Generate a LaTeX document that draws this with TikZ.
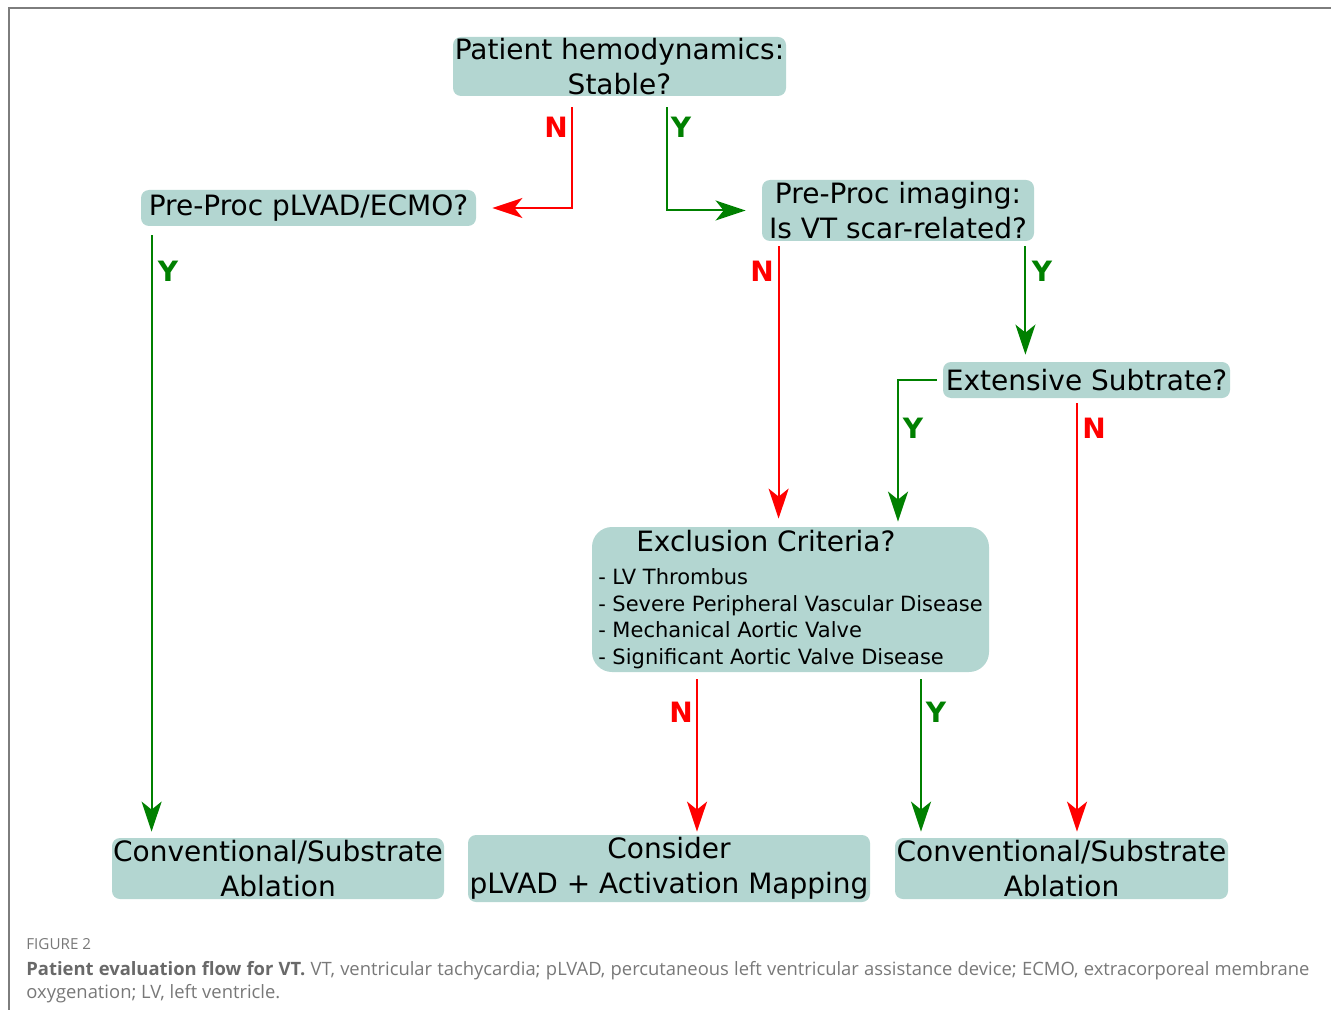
\documentclass[tikz,border=0pt]{standalone}
\usepackage{fontspec}
\setmainfont{DejaVu Sans}
\newfontfamily\capfont{Open Sans}
\usetikzlibrary{arrows.meta,calc}

\definecolor{boxfill}{RGB}{179,214,209}
\definecolor{nored}{RGB}{255,0,0}
\definecolor{yesgreen}{RGB}{0,128,0}
\definecolor{framegray}{RGB}{125,125,125}
\definecolor{capgray}{RGB}{120,120,120}
\definecolor{capdark}{RGB}{105,105,105}

\tikzset{
  box/.style={fill=boxfill, rounded corners=4pt, inner sep=0pt, align=center,
    font=\fontsize{14}{17.5}\selectfont},
  arr/.style={line width=1pt, -{Stealth[length=15pt,width=10pt,inset=4pt]}},
  no/.style={arr, draw=nored},
  yes/.style={arr, draw=yesgreen},
  nlab/.style={text=nored, font=\bfseries\fontsize{14}{14}\selectfont},
  ylab/.style={text=yesgreen, font=\bfseries\fontsize{14}{14}\selectfont},
}

\begin{document}
\begin{tikzpicture}[x=0.5pt,y=-0.5pt]
  \useasboundingbox (0,0) rectangle (1331,1010);
  \draw[framegray,line width=0.75pt] (9,1010) -- (9,8) -- (1331,8);

  % decision boxes
  \node[box,minimum width=166.5pt,minimum height=29.5pt] (hemo) at (619.5,66.5)
    {Patient hemodynamics:\\Stable?};
  \node[box,minimum width=167.5pt,minimum height=18pt] (lvad) at (308.5,208)
    {Pre-Proc pLVAD/ECMO?};
  \node[box,minimum width=136pt,minimum height=30.5pt] (img) at (898,210.5)
    {Pre-Proc imaging:\\Is VT scar-related?};
  \node[box,minimum width=143.5pt,minimum height=18pt] (ext) at (1086.5,380)
    {Extensive Subtrate?};
  \node[box,rounded corners=10pt,minimum width=198.5pt,minimum height=72.5pt,align=left,
    font=\fontsize{10.5}{13.25}\selectfont] (excl) at (790.5,599.5)
    {\hspace*{19pt}{\fontsize{14}{17.5}\selectfont Exclusion Criteria?}\\[3.5pt]
     - LV Thrombus\\
     - Severe Peripheral Vascular Disease\\
     - Mechanical Aortic Valve\\
     - Significant Aortic Valve Disease};

  % outcomes
  \node[box,minimum width=166pt,minimum height=30.5pt] (convl) at (278,868.5)
    {Conventional/Substrate\\Ablation};
  \node[box,minimum width=201pt,minimum height=33.5pt] (cons) at (669,868.5)
    {Consider\\pLVAD + Activation Mapping};
  \node[box,minimum width=166.5pt,minimum height=30.5pt] (convr) at (1061.5,868.5)
    {Conventional/Substrate\\Ablation};

  % connectors
  \draw[no,shorten <=5.5pt,shorten >=8pt] ([xshift=-23.75pt]hemo.south) |- (lvad.east);
  \draw[yes,shorten <=5.5pt,shorten >=8pt] ([xshift=23.5pt]hemo.south) |- (img.west);
  \draw[yes,shorten <=4.5pt,shorten >=3pt] ([xshift=5.5pt]lvad.south west) coordinate (p1)
    -- (p1 |- convl.north);
  \draw[no,shorten <=2.5pt,shorten >=4pt] ([xshift=8.5pt]img.south west) coordinate (p2)
    -- (p2 |- excl.north);
  \draw[yes,shorten <=2.5pt,shorten >=3.5pt] ([xshift=-4.5pt]img.south east) coordinate (p3)
    -- (p3 |- ext.north);
  \draw[yes,shorten <=3pt,shorten >=2.5pt] (ext.west) -| ([xshift=53.75pt]excl.north);
  \draw[no,shorten <=2.5pt,shorten >=3pt] ([xshift=-4.75pt]ext.south) coordinate (p4)
    -- (p4 |- convr.north);
  \draw[no,shorten <=3.5pt,shorten >=1.5pt] ([xshift=-46.75pt]excl.south) coordinate (p5)
    -- (p5 |- cons.north);
  \draw[yes,shorten <=3.5pt,shorten >=3pt] ([xshift=65.25pt]excl.south) coordinate (p6)
    -- (p6 |- convr.north);

  % answers
  \node[nlab] (n1) at (556,127) {N};
  \node[ylab] (y1) at (681,127) {Y};
  \node[ylab] (y2) at (168,271) {Y};
  \node[nlab] (n2) at (762,271) {N};
  \node[ylab] (y3) at (1042,271) {Y};
  \node[ylab] (y4) at (913,428) {Y};
  \node[nlab] (n3) at (1094,428) {N};
  \node[nlab] (n4) at (681,712) {N};
  \node[ylab] (y5) at (936,712) {Y};

  % caption
  \node[anchor=west,inner sep=0pt,text=capgray,font=\capfont\fontsize{7.6}{8}\selectfont]
    (fignum) at (26,944) {FIGURE 2};
  \node[anchor=north west,inner sep=0pt,text width=641.5pt,align=justify,text=capgray,
    font=\capfont\fontsize{9.2}{11.5}\selectfont] (cap) at (26,961)
    {{\color{capdark}\bfseries Patient evaluation flow for VT.} VT, ventricular tachycardia; pLVAD,
     percutaneous left ventricular assistance device; ECMO, extracorporeal membrane\linebreak
     oxygenation; LV, left ventricle.};
\end{tikzpicture}
\end{document}
